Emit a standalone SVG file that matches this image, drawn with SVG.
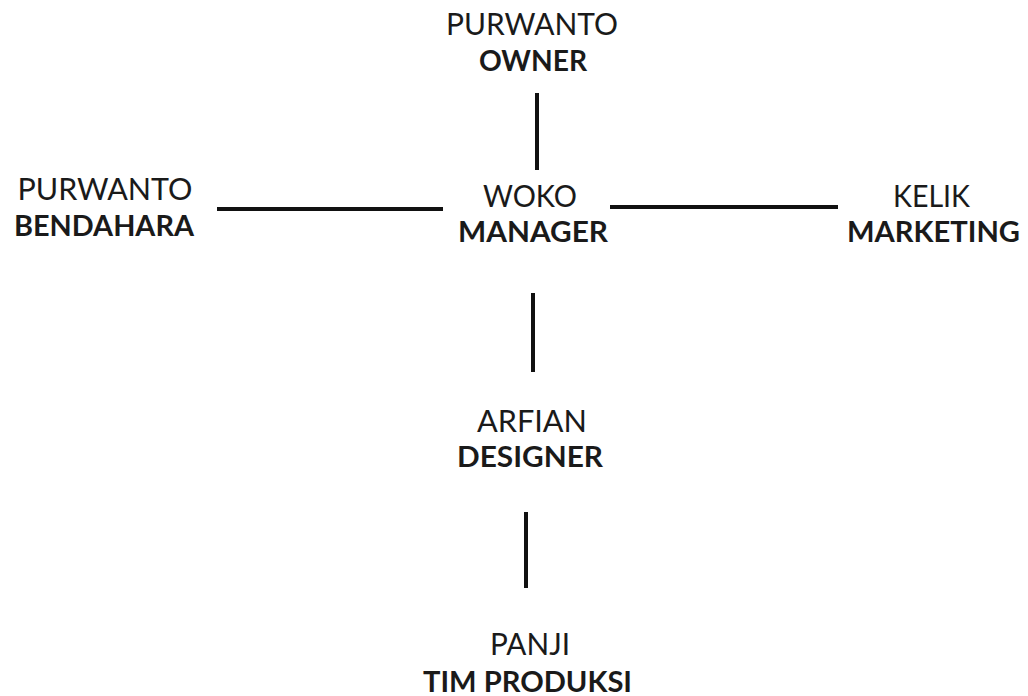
<svg xmlns="http://www.w3.org/2000/svg" width="1028" height="696" viewBox="0 0 1028 696">
<style>
.name{font-family:Lato,"Open Sans","Liberation Sans",sans-serif;font-weight:400;font-size:30px;fill:#1a1a1a;text-anchor:middle}
.role{font-family:Lato,"Open Sans","Liberation Sans",sans-serif;font-weight:700;font-size:28px;fill:#1a1a1a;text-anchor:middle}
.link{stroke:#111;stroke-width:4;fill:none}
</style>
<rect width="1028" height="696" fill="#fff"/>
<g id="connectors">
<line class="link" x1="537" y1="93" x2="537" y2="170"/>
<line class="link" x1="217" y1="209" x2="443" y2="209"/>
<line class="link" x1="610" y1="207" x2="838" y2="207"/>
<line class="link" x1="533" y1="293" x2="533" y2="372"/>
<line class="link" x1="526" y1="512" x2="526" y2="588"/>
</g>
<g id="owner">
<text class="name" x="532" y="35" textLength="172" lengthAdjust="spacingAndGlyphs">PURWANTO</text>
<text class="role" x="533" y="71" textLength="108" lengthAdjust="spacingAndGlyphs">OWNER</text>
</g>
<g id="bendahara">
<text class="name" x="105" y="200" textLength="175" lengthAdjust="spacingAndGlyphs">PURWANTO</text>
<text class="role" x="104" y="236" textLength="180" lengthAdjust="spacingAndGlyphs">BENDAHARA</text>
</g>
<g id="manager">
<text class="name" x="530" y="207" textLength="94" lengthAdjust="spacingAndGlyphs">WOKO</text>
<text class="role" x="533" y="242" textLength="150" lengthAdjust="spacingAndGlyphs">MANAGER</text>
</g>
<g id="marketing">
<text class="name" x="931.5" y="207" textLength="77" lengthAdjust="spacingAndGlyphs">KELIK</text>
<text class="role" x="933.5" y="242" textLength="173" lengthAdjust="spacingAndGlyphs">MARKETING</text>
</g>
<g id="designer">
<text class="name" x="532" y="432" textLength="110" lengthAdjust="spacingAndGlyphs">ARFIAN</text>
<text class="role" x="530" y="467" textLength="146" lengthAdjust="spacingAndGlyphs">DESIGNER</text>
</g>
<g id="produksi">
<text class="name" x="530" y="655" textLength="80" lengthAdjust="spacingAndGlyphs">PANJI</text>
<text class="role" x="527.5" y="692" textLength="209" lengthAdjust="spacingAndGlyphs">TIM PRODUKSI</text>
</g>
</svg>
